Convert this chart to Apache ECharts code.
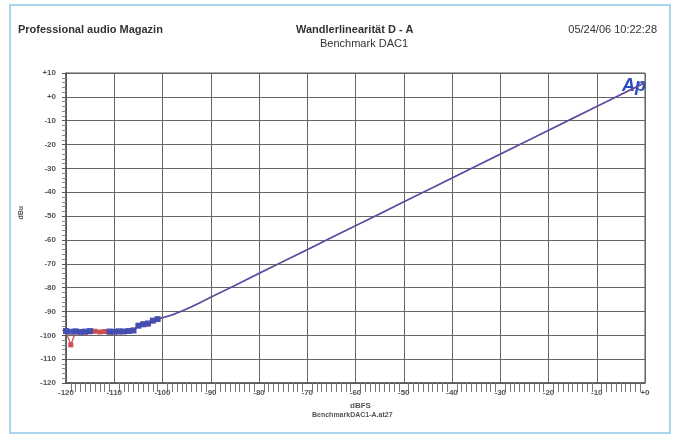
<!DOCTYPE html>
<html><head><meta charset="utf-8">
<script src="https://cdn.jsdelivr.net/npm/echarts@6/dist/echarts.min.js"></script>
<style>html,body{margin:0;padding:0;background:#fff}#c{width:679px;height:434px}</style>
</head><body><div id="c"></div>
<script>
const xTicksMin = -120, xTicksMax = 0;
const yTicksMin = -120, yTicksMax = 10;
const inputLevel = [-120,-119,-118,-117,-116,-115,-114,-113,-112,-111,-110,-109,-108,-107,-106,-105,-104,-103,-102,-101,-100,-98,-96,-94,-92,-90,-85,-80,-75,-70,-65,-60,-55,-50,-45,-40,-35,-30,-25,-20,-15,-10,-5,-2,0];
const chBlue = [-98.2,-98.5,-98.3,-98.6,-98.4,-98.2,-98.5,-98.3,-98.6,-98.4,-98.5,-98.3,-98.4,-98.2,-98.0,-96.0,-95.4,-95.0,-93.8,-93.2,-92.6,-91.4,-89.8,-88.0,-86.1,-84.0,-79.1,-74.0,-69.0,-64.1,-59.0,-54.0,-49.1,-44.0,-39.0,-34.0,-29.0,-24.0,-19.0,-14.0,-9.0,-4.0,1.0,4.0,6.0];
const chRed  = [-98.4,-104.0,-98.6,-98.4,-98.7,-98.5,-98.3,-98.6,-98.4,-98.7,-98.5,-98.6,-98.4,-98.3,-97.8,-95.8,-95.2,-95.3,-94.0,-93.3,-92.7,-91.5,-89.9,-88.1,-86.1,-84.1,-79.1,-74.1,-69.1,-64.1,-59.1,-54.1,-49.1,-44.1,-39.1,-34.1,-29.1,-24.1,-19.1,-14.1,-9.1,-4.1,0.9,3.9,5.9];
const titleLeft = "Professional audio Magazin";
const titleCenter1 = "Wandlerlinearität D - A";
const titleCenter2 = "Benchmark DAC1";
const titleRight = "05/24/06 10:22:28";
const xName = "dBFS";
const fileName = "BenchmarkDAC1-A.at27";
const yName = "dBu";

const pair = (xs, ys) => xs.map((x,i)=>[x, ys[i]]);
const fmt = v => v > 0 ? "+" + v : (v === 0 ? "+0" : String(v));
const chart = echarts.init(document.getElementById('c'));
const font = "Liberation Sans, Arial, sans-serif";
chart.setOption({
  animation:false,
  backgroundColor:'#fff',
  grid:{left:66, right:34, top:73, bottom:51, show:true, borderColor:'#555', borderWidth:1},
  xAxis:{type:'value', min:xTicksMin, max:xTicksMax, interval:10,
    axisLine:{show:true, onZero:false, lineStyle:{color:'#555', width:1.5}},
    axisTick:{show:false},
    minorTick:{show:true, splitNumber:10, length:9, lineStyle:{color:'#777'}},
    axisLabel:{formatter:fmt, color:'#555', fontSize:8, fontWeight:'bold', fontFamily:font, margin:6},
    splitLine:{show:true, lineStyle:{color:'#666', width:1}}},
  yAxis:{type:'value', min:yTicksMin, max:yTicksMax, interval:10,
    axisLine:{show:true, onZero:false, lineStyle:{color:'#555', width:1.5}},
    axisTick:{show:true, length:4, inside:false, lineStyle:{color:'#555'}},
    minorTick:{show:true, splitNumber:5, length:4, lineStyle:{color:'#888'}},
    axisLabel:{formatter:fmt, color:'#555', fontSize:8, fontWeight:'bold', fontFamily:font, margin:10},
    splitLine:{show:true, lineStyle:{color:'#666', width:1}}},
  series:[
    {type:'line', data:pair(inputLevel, chRed), color:'#c84a4a', lineStyle:{width:1.3},
     symbol:'rect', symbolSize:(v)=> v[0] <= -101 ? 5 : 0, itemStyle:{color:'#d05050'}},
    {type:'line', data:pair(inputLevel, chBlue), color:'#3846b0', lineStyle:{width:1.6, opacity:0.82},
     symbol:'rect', symbolSize:(v)=> (v[0] <= -101 && v[0] > -112) || v[0] <= -115 ? 6 : 0, itemStyle:{color:'#3a4cb8', opacity:0.9}}
  ],
  graphic:[
    {type:'rect', shape:{x:10, y:5, width:660, height:428}, style:{fill:null, stroke:'#a8d4ee', lineWidth:2}, z:-1},
    {type:'text', left:18, top:24, style:{text:titleLeft, font:'bold 11px '+font, fill:'#333'}},
    {type:'text', left:296, top:24, style:{text:titleCenter1, font:'bold 11px '+font, fill:'#333'}},
    {type:'text', left:320, top:38, style:{text:titleCenter2, font:'11px '+font, fill:'#333'}},
    {type:'text', right:22, top:24, style:{text:titleRight, font:'11px '+font, fill:'#333'}},
    {type:'text', left:350, top:402, style:{text:xName, font:'bold 8px '+font, fill:'#555'}},
    {type:'text', left:312, top:412, style:{text:fileName, font:'bold 7px '+font, fill:'#555'}},
    {type:'text', left:18, top:206, rotation:Math.PI/2, style:{text:yName, font:'bold 7px '+font, fill:'#555'}},
    {type:'text', left:622, top:77, style:{text:'Ap', font:'italic bold 18px '+font, fill:'#2a4cc0'}}
  ]
});
</script></body></html>
